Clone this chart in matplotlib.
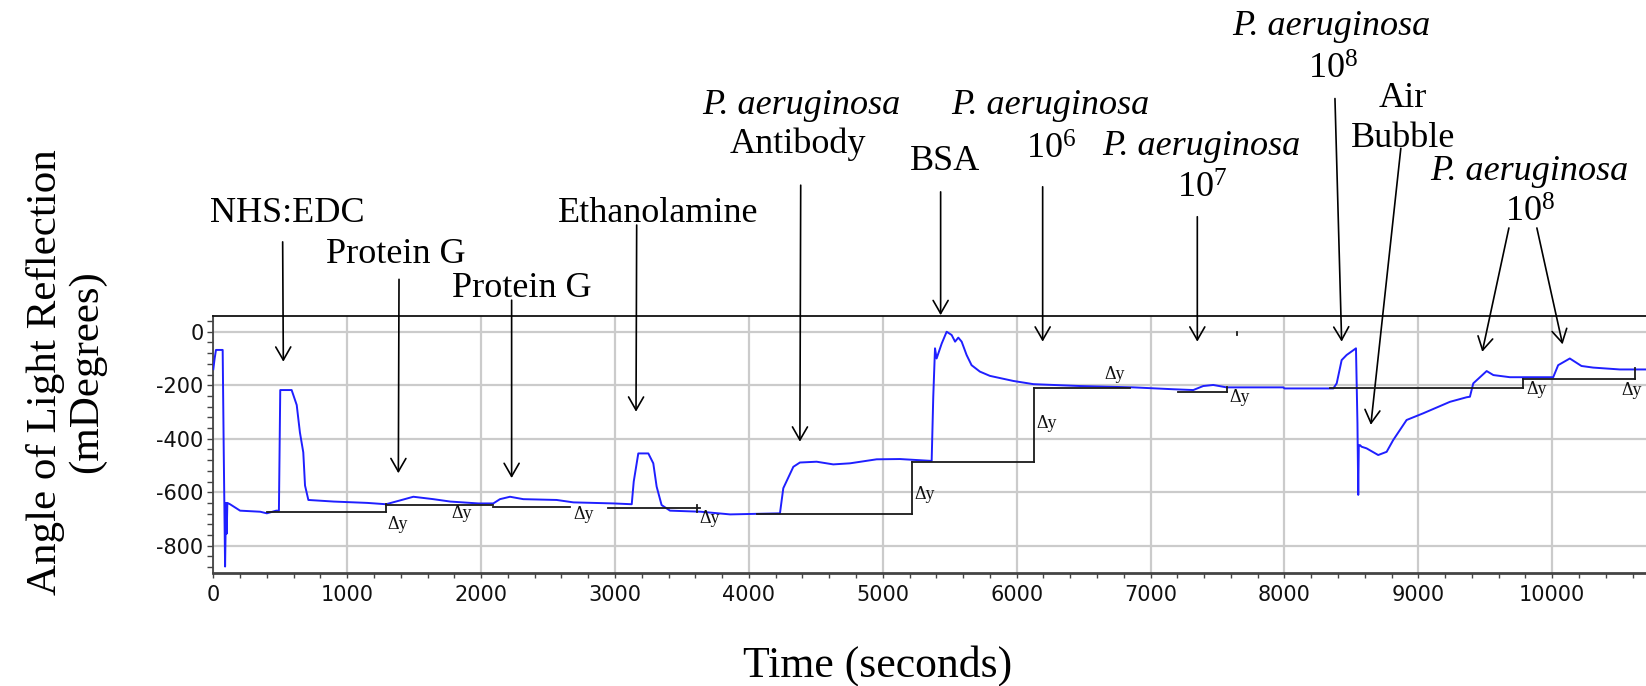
import matplotlib
matplotlib.use("Agg")
import matplotlib.pyplot as plt
from matplotlib.ticker import MultipleLocator

plt.rcParams["mathtext.fontset"] = "custom"
plt.rcParams["mathtext.rm"] = "Liberation Serif"
plt.rcParams["axes.unicode_minus"] = False

# SPR sensorgram: time (s) vs angle shift (mDeg)
time_s = [0, 10, 20, 70, 78, 88, 95, 100, 105, 125, 200, 350, 400, 470, 490,
          500, 510, 585, 598, 623, 647, 672, 685, 710, 900, 1150, 1290, 1400,
          1494, 1643, 1770, 1980, 2091, 2141, 2216, 2315, 2564, 2689, 2990,
          3125, 3140, 3174, 3249, 3286, 3311, 3348, 3411, 3640, 3860, 4232,
          4257, 4332, 4381, 4506, 4630, 4755, 4954, 5128, 5365, 5377, 5390,
          5402, 5440, 5477, 5514, 5540, 5564, 5589, 5626, 5663, 5725, 5800,
          5975, 6125, 6473, 6871, 7169, 7319, 7393, 7468, 7568, 7991, 8000,
          8365, 8390, 8427, 8464, 8534, 8545, 8551, 8555, 8564, 8576, 8613,
          8700, 8763, 8812, 8912, 9036, 9236, 9360, 9385, 9410, 9510, 9560,
          9684, 10007, 10044, 10131, 10218, 10305, 10504, 10700]
angle_mdeg = [-140, -100, -68, -68, -450, -878, -640, -755, -640, -645, -669,
              -673, -679, -669, -669, -218, -218, -218, -237, -274, -377, -451,
              -575, -629, -635, -640, -645, -630, -617, -626, -635, -642, -642,
              -626, -617, -626, -629, -638, -642, -645, -560, -455, -455, -492,
              -579, -648, -669, -673, -683, -679, -585, -505, -489, -486, -496,
              -492, -477, -476, -483, -243, -62, -100, -44, 0, -12, -37, -22,
              -37, -87, -125, -149, -165, -184, -196, -203, -208, -215, -218,
              -203, -199, -208, -208, -212, -212, -193, -106, -87, -62, -342,
              -610, -424, -424, -430, -436, -461, -449, -405, -330, -305, -262,
              -245, -243, -193, -147, -162, -170, -170, -125, -100, -128, -134,
              -141, -141]

# Baseline steps used for the response differences (x0, x1, level)
step_x0 = [398, 1290, 2091, 2950, 4058, 5216, 6129, 7206, 8340, 9783]
step_x1 = [1290, 2091, 2664, 3635, 5216, 6129, 6846, 7573, 9783, 10617]
step_y = [-675, -646, -654, -660, -683, -486, -212, -224, -212, -177]
# Risers joining a baseline to the next level (x, from, to)
riser_x = [1290, 3610, 5216, 6129, 7573, 9783, 10617, 7647]
riser_y0 = [-675, -648, -683, -486, -224, -212, -177, 0]
riser_y1 = [-645, -673, -486, -212, -208, -177, -137, -12]
# Positions of the delta-y tags
dy_x = [1380, 1855, 2763, 3710, 5315, 6224, 6734, 7667, 9883, 10592]
dy_y = [-720, -680, -685, -700, -607, -342, -159, -246, -215, -218]

# Injection labels: (text, x, baseline y, italic)
label_text = ["NHS:EDC", "Protein G", "Protein G", "Ethanolamine",
              "P. aeruginosa", "Antibody", "BSA",
              "P. aeruginosa", r"$\mathrm{10^6}$",
              "P. aeruginosa", r"$\mathrm{10^7}$",
              "P. aeruginosa", r"$\mathrm{10^8}$",
              "Air", "Bubble",
              "P. aeruginosa", r"$\mathrm{10^8}$"]
label_x = [550, 1364, 2305, 3321, 4394, 4363, 5464, 6248, 6261, 7381, 7383,
           8352, 8362, 8884, 8884, 9826, 9834]
label_y = [409, 257, 131, 411, 816, 667, 605, 816, 648, 660, 499, 1109, 947,
           842, 692, 567, 411]
label_italic = [False, False, False, False, True, False, False, True, False,
                True, False, True, False, False, False, True, False]

# Arrows: start -> tip
arrow_x0 = [518, 1387, 2228, 3162, 4387, 5432, 6194, 7349, 8377, 8869, 9676, 9885]
arrow_y0 = [336, 196, 118, 399, 548, 523, 542, 430, 872, 686, 388, 388]
arrow_x1 = [523, 1382, 2228, 3157, 4381, 5432, 6194, 7349, 8427, 8645, 9477, 10077]
arrow_y1 = [-112, -529, -547, -299, -411, 62, -37, -37, -37, -348, -75, -47]

W, H = 1646, 686
fig = plt.figure(figsize=(W / 100, H / 100), dpi=100)
ax = fig.add_axes([213.3 / W, (H - 572.7) / H, 1 - 213.3 / W, 257.0 / H])

ax.plot(time_s, angle_mdeg, color="#1f1fff", lw=1.4, zorder=3)

step_color = "#1a1a1a"
for x0, x1, y in zip(step_x0, step_x1, step_y):
    ax.plot([x0, x1], [y, y], color=step_color, lw=1.3, zorder=4)
for x, y0, y1 in zip(riser_x, riser_y0, riser_y1):
    ax.plot([x, x], [y0, y1], color=step_color, lw=1.3, zorder=4)
for x, y in zip(dy_x, dy_y):
    ax.text(x, y, "\u0394y", ha="center", va="center", fontsize=13,
            family="Liberation Serif", color="#111111", zorder=5)

ax.set_xlim(0, 10700)
ax.set_ylim(-901, 60)
ax.xaxis.set_major_locator(MultipleLocator(1000))
ax.xaxis.set_minor_locator(MultipleLocator(200))
ax.yaxis.set_major_locator(MultipleLocator(200))
ax.yaxis.set_minor_locator(MultipleLocator(40))
ax.grid(which="major", color="#cbcbcb", lw=1.6)
ax.set_axisbelow(True)

ax.spines["right"].set_visible(False)
ax.spines["top"].set_color("#111111")
ax.spines["top"].set_linewidth(1.3)
ax.spines["left"].set_color("#444444")
ax.spines["left"].set_linewidth(1.3)
ax.spines["bottom"].set_color("#444444")
ax.spines["bottom"].set_linewidth(2.0)
ax.tick_params(which="both", direction="out", length=4, width=1,
               color="#444444", labelsize=15, labelcolor="#111111")
ax.tick_params(axis="x", which="both", length=3.5, pad=5)
ax.tick_params(axis="y", which="both", pad=3)
for lab in ax.get_xticklabels() + ax.get_yticklabels():
    lab.set_family("DejaVu Sans")

ax.set_xlabel("Time (seconds)", fontsize=31.5, family="Liberation Serif",
              va="baseline")
ax.xaxis.set_label_coords((878 - 213.3) / (W - 213.3), (572.7 - 677) / 257.0)
ax.set_ylabel("Angle of Light Reflection\n(mDegrees)", fontsize=31,
              family="Liberation Serif", va="center", ha="center",
              linespacing=1.1)
ax.yaxis.set_label_coords((66 - 213.3) / (W - 213.3), (572.7 - 372) / 257.0)

for t, x, y, it in zip(label_text, label_x, label_y, label_italic):
    ax.text(x, y, t, ha="center", va="baseline", fontsize=26,
            family="Liberation Serif", style="italic" if it else "normal",
            color="black", clip_on=False)

for x0, y0, x1, y1 in zip(arrow_x0, arrow_y0, arrow_x1, arrow_y1):
    ax.annotate("", xy=(x1, y1), xytext=(x0, y0), annotation_clip=False,
                arrowprops=dict(arrowstyle="->,head_length=0.47,head_width=0.27",
                                mutation_scale=20, color="black", lw=1.2,
                                shrinkA=0, shrinkB=0))

fig.savefig("out.png", dpi=100, facecolor="white")
